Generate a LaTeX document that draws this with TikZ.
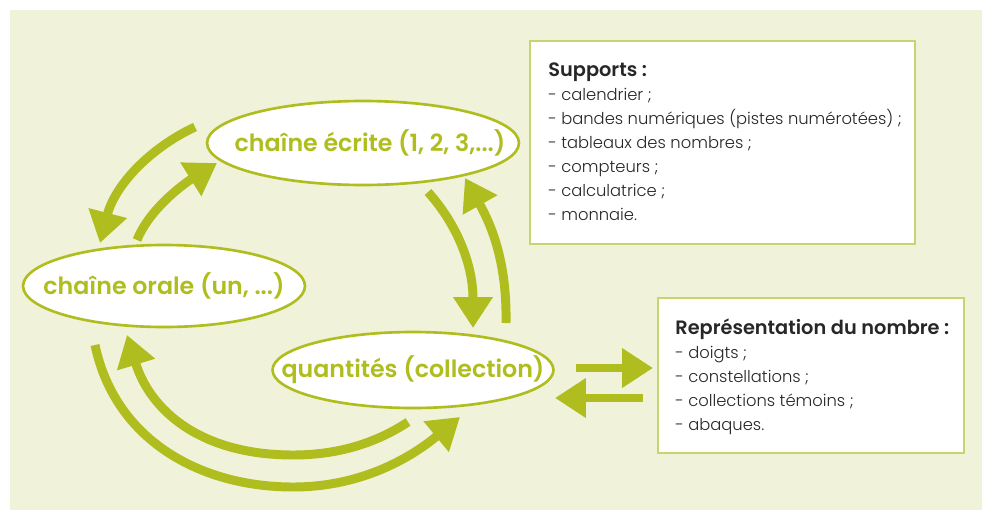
\documentclass[tikz,border=0pt]{standalone}
\usepackage{fontspec}
\setmainfont{Poppins}[UprightFont=* Light, BoldFont=* SemiBold]
\newfontfamily\ovalfont{Poppins SemiBold}
\usetikzlibrary{arrows.meta,shapes.geometric,positioning}
\definecolor{leaf}{RGB}{175,189,30}
\definecolor{paper}{RGB}{240,242,218}
\definecolor{rim}{RGB}{200,212,110}
\definecolor{ink}{RGB}{40,38,38}
\newcommand{\listhead}[1]{{\bfseries\fontsize{11}{13.66}\selectfont #1}}
\tikzset{
  oval/.style={ellipse,draw=leaf,line width=1.5pt,fill=white,inner sep=0pt},
  ovaltext/.style={text=leaf,inner sep=0pt,font=\ovalfont\fontsize{13.5}{16}\selectfont},
  panel/.style={rectangle,draw=rim,line width=0.9pt,fill=white,inner sep=0pt,anchor=north west},
  listtext/.style={text=ink,align=left,inner sep=0pt,anchor=north west,font=\fontsize{9.3}{13.66}\selectfont},
  flow/.style={draw=leaf,line width=5.1pt,-{Triangle[length=17.6pt,width=21.5pt]}}
}
\begin{document}
\begin{tikzpicture}[x=0.02cm,y=-0.02cm]
  \useasboundingbox (0,0) rectangle (982,510);
  \fill[paper] (10,10) rectangle (982,510);

  % the three ovals
  \node[oval,minimum width=6.24cm,minimum height=1.68cm] (ecrite) at (363,143) {};
  \node[ovaltext] (ecritetxt) at ([xshift=0.14cm]ecrite.center) {chaîne écrite (1, 2, 3,...)};
  \node[oval,minimum width=5.64cm,minimum height=1.64cm] (orale) at (164,286) {};
  \node[ovaltext] (oraletxt) at (orale.center) {chaîne orale (un, ...)};
  \node[oval,minimum width=5.62cm,minimum height=1.52cm] (quant) at (413,370) {};
  \node[ovaltext] (quanttxt) at (quant.center) {quantités (collection)};

  % the two panels
  \node[panel,minimum width=7.7cm,minimum height=4.06cm] (supbox) at (529,40) {};
  \node[listtext] (suptext) at (548,62) {\listhead{Supports :}\\
    - calendrier ;\\
    - bandes numériques (pistes numérotées) ;\\
    - tableaux des nombres ;\\
    - compteurs ;\\
    - calculatrice ;\\
    - monnaie.};
  \node[panel,minimum width=6.12cm,minimum height=3.1cm] (repbox) at (657,297) {};
  \node[listtext] (reptext) at (675,318) {\listhead{Représentation du nombre :}\\
    - doigts ;\\
    - constellations ;\\
    - collections témoins ;\\
    - abaques.};

  % ecrite <-> orale
  \coordinate (eo1) at (195,127);
  \coordinate (eo2) at (100,243);
  \coordinate (oe1) at (137,240);
  \coordinate (oe2) at (217,163);
  \draw[flow] (eo1) .. controls (150,148) and (115,185) .. (eo2);
  \draw[flow] (oe1) .. controls (150,208) and (185,183) .. (oe2);

  % ecrite <-> quantites
  \coordinate (eq1) at (428,192);
  \coordinate (eq2) at (473,328);
  \coordinate (qe1) at (506,323);
  \coordinate (qe2) at (465,178);
  \draw[flow] (eq1) .. controls (455,222) and (473,262) .. (eq2);
  \draw[flow] (qe1) .. controls (507,265) and (493,228) .. (qe2);

  % quantites <-> orale
  \coordinate (qo1) at (408,422);
  \coordinate (qo2) at (127,335);
  \coordinate (oq1) at (95,345);
  \coordinate (oq2) at (460,417);
  \draw[flow] (qo1) .. controls (370,447) and (330,455) .. (293,455)
    .. controls (200,455) and (150,410) .. (qo2);
  \draw[flow] (oq1) .. controls (115,440) and (200,487) .. (293,487)
    .. controls (370,487) and (420,450) .. (oq2);

  % quantites <-> representation
  \coordinate (qr1) at (576,368);
  \coordinate (qr2) at (653,368);
  \coordinate (rq1) at (643,398);
  \coordinate (rq2) at (555,398);
  \draw[flow] (qr1) -- (qr2);
  \draw[flow] (rq1) -- (rq2);
\end{tikzpicture}
\end{document}
